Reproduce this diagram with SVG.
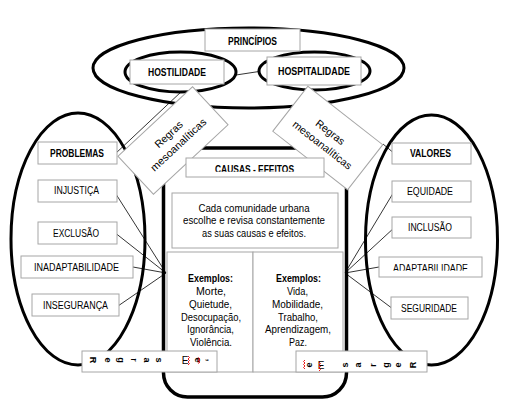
<svg xmlns="http://www.w3.org/2000/svg" width="512" height="409" viewBox="0 0 512 409">
<style>
.ell{fill:none;stroke:#000;stroke-width:3}
.box{fill:#fff;stroke:#a6a6a6;stroke-width:1}
.lb{font-family:"Liberation Sans",Arial,sans-serif;font-size:10px;font-weight:bold;fill:#000;text-anchor:middle}
.ln{font-family:"Liberation Sans",Arial,sans-serif;font-size:10px;fill:#000;text-anchor:middle}
.rn{font-family:"Liberation Sans",Arial,sans-serif;font-size:10.5px;fill:#000;text-anchor:middle}
.gl{font-family:"Liberation Sans",Arial,sans-serif;font-size:9px;font-weight:bold;fill:#000;text-anchor:middle}
.con{stroke:#000;stroke-width:0.8;fill:none}
.sq{stroke:#e00;stroke-width:0.9;fill:none}
</style>
<defs>
<clipPath id="clipCE"><rect x="180" y="150" width="150" height="21.7"/></clipPath>
<clipPath id="clipAD"><rect x="375" y="250" width="110" height="20.7"/></clipPath>
</defs>
<rect width="512" height="409" fill="#fff"/>

<g id="frames">
<ellipse class="ell" cx="248.5" cy="68" rx="155.5" ry="40"/>
<ellipse class="ell" cx="180.5" cy="72" rx="55.5" ry="20"/>
<ellipse class="ell" cx="314.5" cy="71" rx="55.5" ry="19"/>
<ellipse class="ell" cx="78" cy="239" rx="67" ry="126"/>
<ellipse class="ell" cx="431.5" cy="240" rx="66" ry="125"/>
<rect x="163.5" y="148" width="183" height="249" rx="24" fill="none" stroke="#000" stroke-width="3.5"/>
</g>

<g id="connectors">
<line class="con" x1="236" y1="75" x2="259" y2="71.5"/>
<line class="con" x1="182" y1="91" x2="115" y2="154"/>
<line class="con" x1="383" y1="144" x2="395" y2="154"/>
<line class="con" x1="114" y1="191" x2="166" y2="273"/>
<line class="con" x1="114" y1="232" x2="166" y2="273"/>
<line class="con" x1="133" y1="267" x2="166" y2="273"/>
<line class="con" x1="118" y1="306" x2="166" y2="273"/>
<line class="con" x1="395" y1="190" x2="345" y2="273"/>
<line class="con" x1="395" y1="227" x2="345" y2="273"/>
<line class="con" x1="379" y1="267" x2="345" y2="273"/>
<line class="con" x1="393" y1="309" x2="345" y2="273"/>
</g>

<g id="principios">
<rect class="box" x="205" y="29" width="95" height="22"/>
<text class="lb" x="252.5" y="44.5" textLength="49" lengthAdjust="spacingAndGlyphs">PRINCÍPIOS</text>
</g>
<g id="hostilidade">
<rect class="box" x="130" y="60" width="94" height="24"/>
<text class="lb" x="177" y="76" textLength="58" lengthAdjust="spacingAndGlyphs">HOSTILIDADE</text>
</g>
<g id="hospitalidade">
<rect class="box" x="267" y="57" width="94" height="28"/>
<text class="lb" x="314" y="75" textLength="72" lengthAdjust="spacingAndGlyphs">HOSPITALIDADE</text>
</g>

<g id="regras-left" transform="translate(173,140.5) rotate(-43)">
<rect class="box" x="-51" y="-26" width="102" height="52"/>
<text class="rn" x="1" y="-3.8">Regras</text>
<text class="rn" x="1" y="10.4" textLength="72" lengthAdjust="spacingAndGlyphs">mesoanalíticas</text>
</g>
<g id="regras-right" transform="translate(327.75,138) rotate(38)">
<rect class="box" x="-47.5" y="-28.5" width="95" height="57"/>
<text class="rn" x="-1.5" y="-2.5">Regras</text>
<text class="rn" x="0" y="12.5" textLength="72" lengthAdjust="spacingAndGlyphs">mesoanalíticas</text>
</g>

<g id="causas-efeitos">
<rect class="box" x="186" y="158" width="138" height="19"/>
<text class="lb" x="254.5" y="173" textLength="79" lengthAdjust="spacingAndGlyphs" clip-path="url(#clipCE)">CAUSAS - EFEITOS</text>
</g>
<g id="descricao">
<rect class="box" x="172" y="193" width="166" height="55"/>
<text class="ln" x="254" y="211.7" textLength="111" lengthAdjust="spacingAndGlyphs">Cada comunidade urbana</text>
<text class="ln" x="254" y="224" textLength="142" lengthAdjust="spacingAndGlyphs">escolhe e revisa constantemente</text>
<text class="ln" x="254" y="236.7" textLength="104" lengthAdjust="spacingAndGlyphs">as suas causas e efeitos.</text>
</g>
<g id="exemplos-problemas">
<rect class="box" x="167" y="252" width="86" height="120"/>
<text class="lb" x="210.5" y="282.3" textLength="45" lengthAdjust="spacingAndGlyphs">Exemplos:</text>
<text class="ln" x="211" y="295" textLength="30" lengthAdjust="spacingAndGlyphs">Morte,</text>
<text class="ln" x="210.5" y="307.8" textLength="43" lengthAdjust="spacingAndGlyphs">Quietude,</text>
<text class="ln" x="211" y="320.6" textLength="60" lengthAdjust="spacingAndGlyphs">Desocupação,</text>
<text class="ln" x="210.5" y="333.4" textLength="47" lengthAdjust="spacingAndGlyphs">Ignorância,</text>
<text class="ln" x="211" y="346.2" textLength="42" lengthAdjust="spacingAndGlyphs">Violência.</text>
</g>
<g id="exemplos-valores">
<rect class="box" x="253" y="252" width="90" height="120"/>
<text class="lb" x="298.5" y="282.3" textLength="45" lengthAdjust="spacingAndGlyphs">Exemplos:</text>
<text class="ln" x="297.5" y="295" textLength="21" lengthAdjust="spacingAndGlyphs">Vida,</text>
<text class="ln" x="297.5" y="307.8" textLength="51" lengthAdjust="spacingAndGlyphs">Mobilidade,</text>
<text class="ln" x="298" y="320.6" textLength="40" lengthAdjust="spacingAndGlyphs">Trabalho,</text>
<text class="ln" x="298" y="333.4" textLength="66" lengthAdjust="spacingAndGlyphs">Aprendizagem,</text>
<text class="ln" x="298" y="346.2" textLength="18" lengthAdjust="spacingAndGlyphs">Paz.</text>
</g>

<g id="problemas">
<rect class="box" x="38" y="142" width="79" height="22"/>
<text class="lb" x="77" y="157.3" textLength="54" lengthAdjust="spacingAndGlyphs">PROBLEMAS</text>
</g>
<g id="injustica">
<rect class="box" x="38" y="180" width="79" height="22"/>
<text class="ln" x="76.5" y="194.3" textLength="45" lengthAdjust="spacingAndGlyphs">INJUSTIÇA</text>
</g>
<g id="exclusao">
<rect class="box" x="38" y="222" width="79" height="22"/>
<text class="ln" x="76" y="236.7" textLength="46" lengthAdjust="spacingAndGlyphs">EXCLUSÃO</text>
</g>
<g id="inadaptabilidade">
<rect class="box" x="21" y="256" width="112" height="22"/>
<text class="ln" x="76.5" y="271" textLength="85" lengthAdjust="spacingAndGlyphs">INADAPTABILIDADE</text>
</g>
<g id="inseguranca">
<rect class="box" x="32" y="294" width="87" height="22"/>
<text class="ln" x="75.5" y="309" textLength="65" lengthAdjust="spacingAndGlyphs">INSEGURANÇA</text>
</g>

<g id="valores">
<rect class="box" x="392" y="143" width="79" height="21"/>
<text class="lb" x="430.5" y="157.3" textLength="41" lengthAdjust="spacingAndGlyphs">VALORES</text>
</g>
<g id="equidade">
<rect class="box" x="392" y="181" width="79" height="21"/>
<text class="ln" x="430" y="194.5" textLength="46" lengthAdjust="spacingAndGlyphs">EQUIDADE</text>
</g>
<g id="inclusao">
<rect class="box" x="392" y="217" width="79" height="21"/>
<text class="ln" x="430" y="231" textLength="44" lengthAdjust="spacingAndGlyphs">INCLUSÃO</text>
</g>
<g id="adaptabilidade">
<rect class="box" x="379" y="257" width="103" height="20"/>
<text class="ln" x="430.5" y="272" textLength="75" lengthAdjust="spacingAndGlyphs" clip-path="url(#clipAD)">ADAPTABILIDADE</text>
</g>
<g id="seguridade">
<rect class="box" x="391" y="297" width="77" height="22"/>
<text class="ln" x="429" y="312" textLength="56" lengthAdjust="spacingAndGlyphs">SEGURIDADE</text>
</g>

<g id="regras-bottom-left">
<rect class="box" x="82" y="351" width="135" height="21"/>
<text class="gl" transform="translate(93,360) rotate(90)" y="3">R</text>
<text class="gl" transform="translate(108,360) rotate(90)" y="3">e</text>
<text class="gl" transform="translate(121,360) rotate(90)" y="3">g</text>
<text class="gl" transform="translate(134,360) rotate(90)" y="3">r</text>
<text class="gl" transform="translate(147,360) rotate(90)" y="3">a</text>
<text class="gl" transform="translate(159,360) rotate(90)" y="3">s</text>
<text class="ln" x="185" y="364">E</text>
<text class="gl" transform="translate(198,360) rotate(90)" y="3">e</text>
<text class="gl" transform="translate(210,360) rotate(90)" y="3">,</text>
<path class="sq" d="M188,356 l1.5,1.5 l-1.5,1.5 l1.5,1.5 l-1.5,1.5 l1.5,1.5 l-1.5,1.5"/>
<path class="sq" d="M198,357.5 l2,1.5 l-2,1.5 l2,1.5 l-2,1.5"/>
</g>
<g id="regras-bottom-right">
<rect class="box" x="296" y="351" width="131" height="21"/>
<text class="gl" transform="translate(309,365) rotate(-90)" y="3">e</text>
<text class="ln" x="321" y="369">E</text>
<text class="gl" transform="translate(345,365) rotate(-90)" y="3">s</text>
<text class="gl" transform="translate(358,365) rotate(-90)" y="3">a</text>
<text class="gl" transform="translate(373,365) rotate(-90)" y="3">r</text>
<text class="gl" transform="translate(386,365) rotate(-90)" y="3">g</text>
<text class="gl" transform="translate(398,365) rotate(-90)" y="3">e</text>
<text class="gl" transform="translate(413,365) rotate(-90)" y="3">R</text>
<path class="sq" d="M305,360 l-1.5,1.5 l1.5,1.5 l-1.5,1.5 l1.5,1.5 l-1.5,1.5 l1.5,1.5"/>
<path class="sq" d="M319,362 l1.5,1.5 l-1.5,1.5 l1.5,1.5 l-1.5,1.5 l1.5,1.5 l-1.5,1.5"/>
</g>
</svg>
